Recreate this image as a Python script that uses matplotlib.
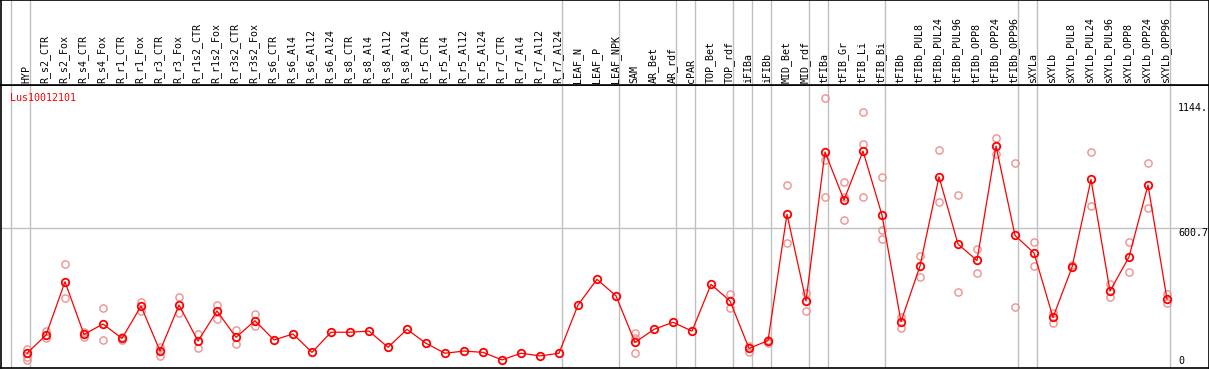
import numpy as np
import matplotlib
matplotlib.use("Agg")
import matplotlib.pyplot as plt
import matplotlib.transforms as mtransforms

# Datos
muestras = ["HYP",
            "R_s2_CTR", "R_s2_Fox", "R_s4_CTR", "R_s4_Fox", "R_r1_CTR", "R_r1_Fox",
            "R_r3_CTR", "R_r3_Fox", "R_r1s2_CTR", "R_r1s2_Fox", "R_r3s2_CTR", "R_r3s2_Fox",
            "R_s6_CTR", "R_s6_Al4", "R_s6_Al12", "R_s6_Al24", "R_s8_CTR", "R_s8_Al4",
            "R_s8_Al12", "R_s8_Al24", "R_r5_CTR", "R_r5_Al4", "R_r5_Al12", "R_r5_Al24",
            "R_r7_CTR", "R_r7_Al4", "R_r7_Al12", "R_r7_Al24",
            "LEAF_N", "LEAF_P", "LEAF_NPK",
            "SAM", "AR_Bet", "AR_rdf",
            "cPAR",
            "TOP_Bet", "TOP_rdf",
            "iFIBa",
            "iFIBb",
            "MID_Bet", "MID_rdf",
            "tFIBa",
            "tFIB_Gr", "tFIB_Li", "tFIB_Bi",
            "tFIBb", "tFIBb_PUL8", "tFIBb_PUL24", "tFIBb_PUL96", "tFIBb_OPP8",
            "tFIBb_OPP24", "tFIBb_OPP96",
            "sXYLa",
            "sXYLb", "sXYLb_PUL8", "sXYLb_PUL24", "sXYLb_PUL96", "sXYLb_OPP8",
            "sXYLb_OPP24", "sXYLb_OPP96"]

tamanos_grupo = [1, 28, 3, 3, 1, 2, 1, 1, 2, 1, 3, 7, 1, 7]

medias = [35,
          117, 358, 120, 167, 102, 248, 45, 253, 90, 226, 107, 182,
          95, 122, 39, 130, 130, 135, 62, 143, 80, 35, 45, 39, 5, 35, 23, 35,
          253, 369, 294,
          84, 143, 175,
          135,
          346, 271,
          57,
          92,
          663, 271,
          944,
          727, 948, 659,
          178, 429, 832, 528, 454, 971, 567,
          488,
          197, 423, 820, 316, 470, 795, 279]

replicas = [[54, 20, 5],
            [135, 102], [437, 283], [132, 110], [238, 95], [107, 95], [268, 226],
            [65, 23], [288, 215], [120, 57], [253, 190], [140, 75], [211, 158],
            [], [], [], [], [], [], [], [], [], [], [], [], [], [], [], [],
            [], [], [],
            [125, 104, 38], [], [],
            [],
            [], [301, 241],
            [68, 42],
            [96, 80],
            [794, 532], [309, 227],
            [1187, 908, 739],
            [807, 742, 637], [1126, 980, 739], [832, 592, 550],
            [200, 150], [474, 378], [953, 717], [748, 310], [504, 396], [1006, 935], [893, 243],
            [536, 429],
            [218, 173], [434], [942, 700], [348, 288], [536, 403], [893, 690], [303, 261]]

gen = "Lus10012101"
marcas_y = [1144.0, 600.7, 0]
textos_y = ["1144.", "600.7", "0"]

W, H = 1209, 370
fig = plt.figure(figsize=(W / 100, H / 100), dpi=100)
fuente = "DejaVu Sans Mono"

# columnas: punto en x = 27 + 19*i px, eje de 0.5 a 1208.5 px
x0 = (0.5 - 27) / 19
x1 = (1208.5 - 27) / 19
# escala vertical: 0 en y=361 px, 600.7 en y=228 px
ppu = 133 / 600.7
y_bot = (361 - 368) / ppu
y_top = (361 - 85) / ppu

ax = fig.add_axes([0.5 / W, 2 / H, 1208 / W, 283 / H])
cab = fig.add_axes([0.5 / W, 285 / H, 1208 / W, 85 / H])

for a in (ax, cab):
    a.set_xlim(x0, x1)
    a.set_xticks([])
    a.set_yticks([])
    for s in a.spines.values():
        s.set_color("black")
        s.set_linewidth(1.2)
ax.set_ylim(y_bot, y_top)
cab.set_ylim(0, 1)

# separadores de grupo
limites = np.concatenate([[0], np.cumsum(tamanos_grupo)]) - 16 / 19
for b in limites:
    ax.axvline(b, color="#c0c0c0", lw=1, zorder=1)
    cab.axvline(b, color="#c0c0c0", lw=1, zorder=1)

ax.axhline(marcas_y[1], color="#c0c0c0", lw=1, zorder=1)

x = np.arange(len(muestras))
for i, reps in enumerate(replicas):
    if reps:
        ax.plot([i] * len(reps), reps, "o", ms=5.2, mfc="none", mec="#f09090",
                mew=1.0, zorder=2)

ax.plot(x, medias, "-", color="red", lw=0.9, zorder=3)
ax.plot(x, medias, "o", ms=5.4, mfc="none", mec="red", mew=1.3, zorder=4)

for i, nombre in enumerate(muestras):
    cab.text(i - 0.05, 2 / 85, nombre, rotation=90, ha="center", va="bottom",
             fontsize=7.2, family=fuente)

ax.text(9.5 / 1208, 1 - 13 / 283, gen, transform=ax.transAxes, color="red",
        fontsize=7.2, family=fuente, ha="left", va="center")

trans = mtransforms.blended_transform_factory(ax.transAxes, ax.transData)
for v, t in zip(marcas_y, textos_y):
    va = "top" if t == "600.7" else "center"
    ax.text(1177.5 / 1208, v, t, transform=trans, fontsize=7.2, family=fuente,
            ha="left", va=va)

fig.savefig("out.png", dpi=100)
